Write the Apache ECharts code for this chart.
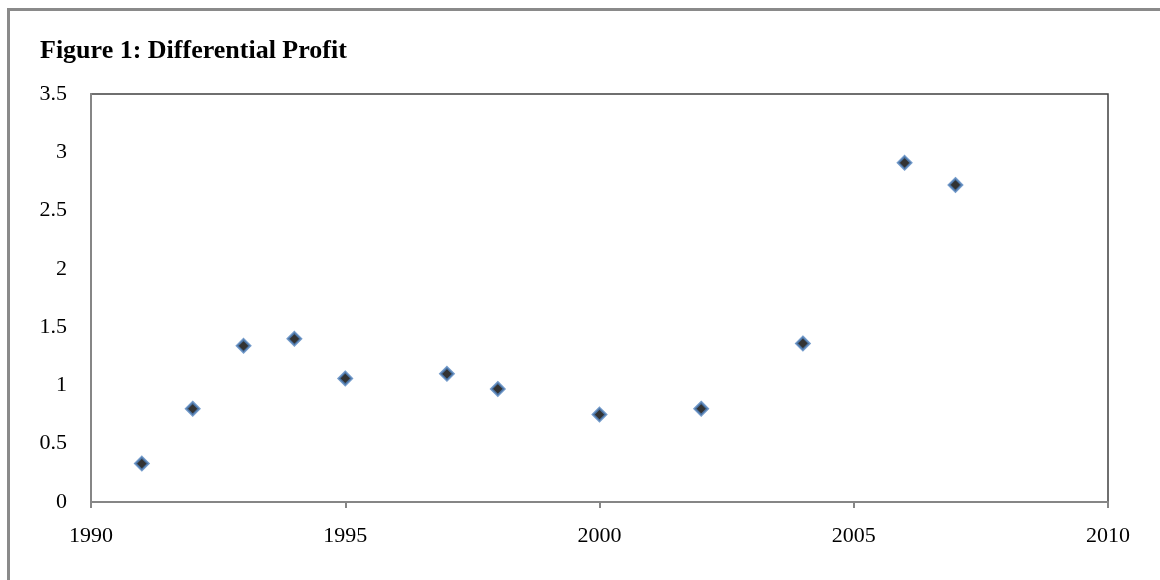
<!DOCTYPE html>
<html><head><meta charset="utf-8">
<script src="https://cdn.jsdelivr.net/npm/echarts@6/dist/echarts.min.js"></script>
<style>html,body{margin:0;padding:0;background:#fff}#c{width:1160px;height:580px}</style>
</head><body><div id="c"></div>
<script>
const years = [1991, 1992, 1993, 1994, 1995, 1997, 1998, 2000, 2002, 2004, 2006, 2007];
const profit = [0.33, 0.80, 1.34, 1.40, 1.06, 1.10, 0.97, 0.75, 0.80, 1.36, 2.91, 2.72];
const titleText = 'Figure 1: Differential Profit';

const chart = echarts.init(document.getElementById('c'), null, {renderer: 'canvas'});
const font = '"Liberation Serif", "Times New Roman", serif';
chart.setOption({
  animation: false,
  backgroundColor: '#fff',
  title: {
    text: titleText, left: 35, top: 33,
    textStyle: {fontFamily: font, fontWeight: 'bold', fontSize: 26, color: '#000'}
  },
  graphic: [
    {type: 'rect', shape: {x: 8.5, y: 9.5, width: 1300, height: 700}, style: {fill: 'none', stroke: '#8a8a8a', lineWidth: 3}, silent: true}
  ],
  grid: {left: 91, right: 52, top: 94, bottom: 78, show: true, borderColor: '#404040', borderWidth: 1.5},
  xAxis: {
    type: 'value', min: 1990, max: 2010, interval: 5,
    axisLine: {show: true, lineStyle: {color: '#868686', width: 2}},
    axisTick: {show: true, length: 6, lineStyle: {color: '#868686', width: 2}},
    splitLine: {show: false},
    axisLabel: {fontFamily: font, fontSize: 22, color: '#000', margin: 23, formatter: v => String(v)}
  },
  yAxis: {
    type: 'value', min: 0, max: 3.5, interval: 0.5,
    axisLine: {show: true, lineStyle: {color: '#868686', width: 2}},
    axisTick: {show: false},
    splitLine: {show: false},
    axisLabel: {fontFamily: font, fontSize: 22, color: '#000', margin: 24}
  },
  series: [{
    type: 'scatter',
    data: years.map((y, i) => [y, profit[i]]),
    symbol: 'diamond', symbolSize: 13,
    itemStyle: {color: '#000', borderColor: '#4f81bd', borderWidth: 2.5}
  }]
});
</script></body></html>
